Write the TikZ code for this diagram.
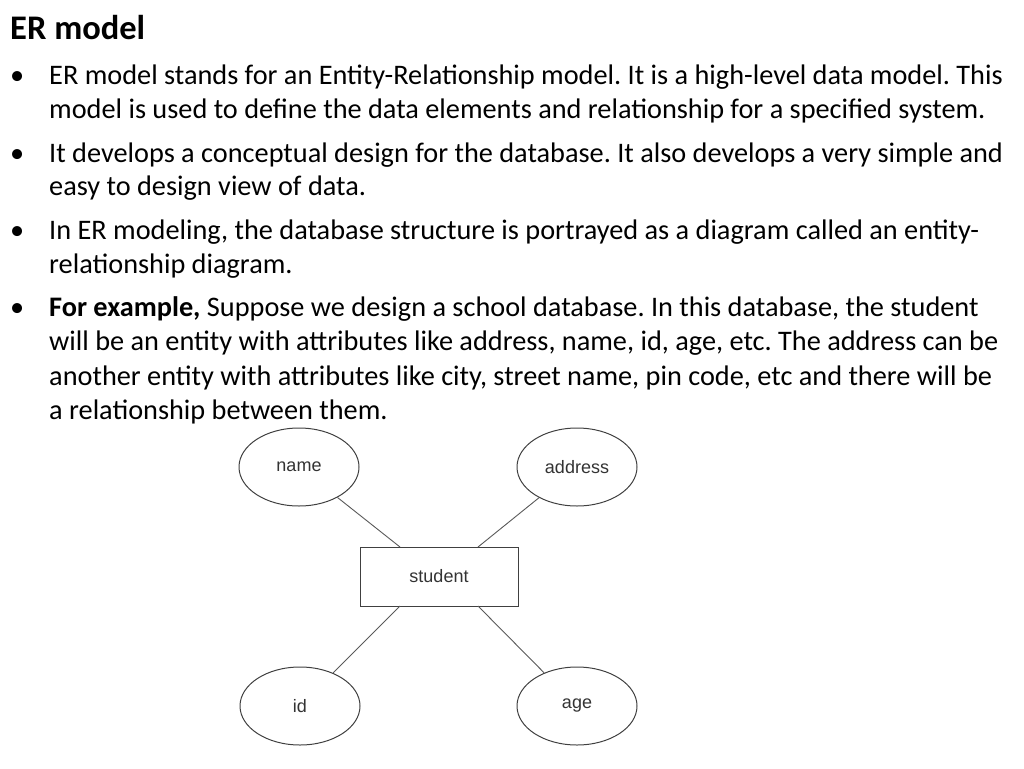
\documentclass[tikz,border=0pt]{standalone}
\usepackage{fontspec}
\setmainfont{Carlito}
\newfontfamily\diag{Liberation Sans}
\usetikzlibrary{shapes.geometric}
\begin{document}
\frenchspacing
\begin{tikzpicture}[x=1pt,y=-1pt,
  ln/.style={anchor=base west,inner sep=0pt,font=\fontsize{28.3}{32}\selectfont},
  bul/.style={anchor=base west,inner sep=0pt,font=\fontsize{28.3}{32}\selectfont},
  att/.style={ellipse,draw=black!75,line width=1pt,minimum width=120pt,minimum height=78pt,font=\diag\fontsize{18}{20}\selectfont,text=black!80},
  ent/.style={rectangle,draw=black!75,line width=1pt,minimum width=158pt,minimum height=59pt,font=\diag\fontsize{18}{20}\selectfont,text=black!80},
  con/.style={draw=black!65,line width=0.9pt}]
\useasboundingbox (0,0) rectangle (1024,768);
\node[ln,font=\bfseries\fontsize{34.5}{38}\selectfont] (t) at (10,40) {ER model};
\foreach \y/\n in {84/b1,162/b2,239/b3,316/b4}{\node[bul] (\n) at (10,\y) {\textbullet};}
\node[ln] (l1) at (49,84) {ER model stands for an Entity-Relationship model. It is a high-level data model. This};
\node[ln] (l2) at (49,118) {model is used to define the data elements and relationship for a specified system.};
\node[ln] (l3) at (49,162) {It develops a conceptual design for the database. It also develops a very simple and};
\node[ln] (l4) at (49,195) {easy to design view of data.};
\node[ln] (l5) at (49,239) {In ER modeling, the database structure is portrayed as a diagram called an entity-};
\node[ln] (l6) at (49,273) {relationship diagram.};
\node[ln] (l7) at (49,316) {\textbf{For example,} Suppose we design a school database. In this database, the student};
\node[ln] (l8) at (49,350) {will be an entity with attributes like address, name, id, age, etc. The address can be};
\node[ln] (l9) at (49,385) {another entity with attributes like city, street name, pin code, etc and there will be};
\node[ln] (l10) at (49,419) {a relationship between them.};
\node[att] (name) at (299,467) {name};
\node[att] (address) at (577,467) {address};
\node[ent] (student) at (439,576.5) {student};
\node[att] (id) at (300,706) {id};
\node[att] (age) at (577,706) {age};
\coordinate (c1) at (400,547);
\coordinate (c2) at (478,547);
\coordinate (c3) at (400,606);
\coordinate (c4) at (478,606);
\draw[con] (name) -- (c1);
\draw[con] (address) -- (c2);
\draw[con] (id) -- (c3);
\draw[con] (age) -- (c4);
\end{tikzpicture}
\end{document}
